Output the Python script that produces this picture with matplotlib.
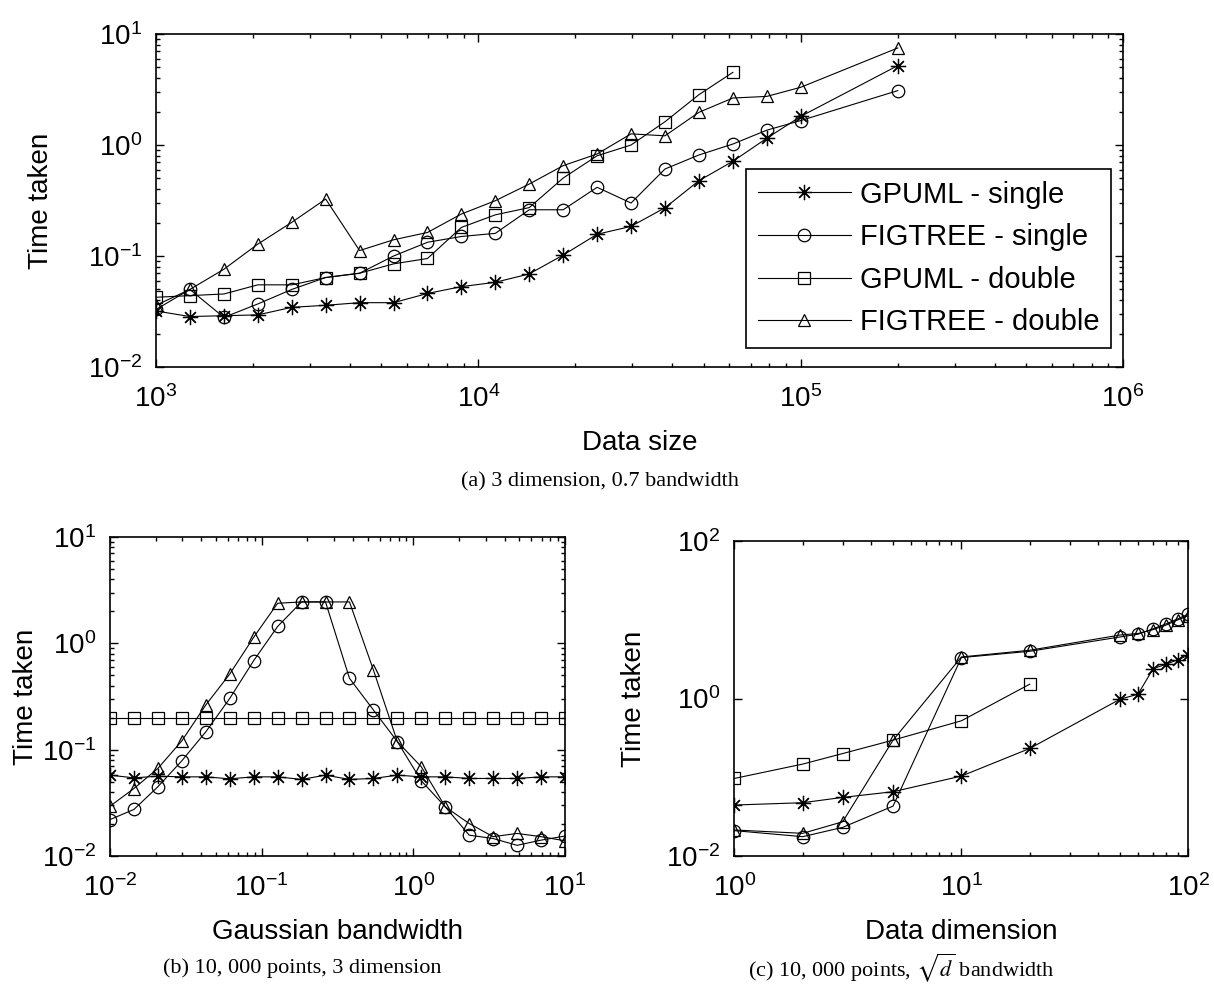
import matplotlib
matplotlib.use('Agg')
import matplotlib.pyplot as plt
from matplotlib.ticker import NullLocator

plt.rcParams['font.family'] = ['Liberation Sans', 'DejaVu Sans']

# (a) time vs data size, 3 dimension, 0.7 bandwidth
size_x = [1000, 1274, 1624, 2069, 2637, 3360, 4281, 5456, 6952, 8859, 11288,
          14384, 18330, 23357, 29764, 37927, 48329, 61585, 78476, 100000, 200000]
gpuml_single_a = [0.032, 0.0285, 0.029, 0.0295, 0.0345, 0.036, 0.038, 0.038, 0.046, 0.053, 0.058,
                  0.069, 0.102, 0.157, 0.185, 0.272, 0.477, 0.713, 1.15, 1.81, 5.19]
figtree_single_a = [0.033, 0.050, 0.028, 0.037, 0.050, 0.064, 0.070, 0.100, 0.133, 0.150, 0.160,
                    0.261, 0.261, 0.416, 0.300, 0.608, 0.813, 1.02, 1.36, 1.66, 3.09]
gpuml_double_a = [0.0425, 0.044, 0.0455, 0.055, 0.055, 0.064, 0.070, 0.085, 0.095, 0.181,
                  0.235, 0.273, 0.504, 0.80, 1.0, 1.62, 2.84, 4.51]
figtree_double_a = [0.036, 0.050, 0.076, 0.128, 0.201, 0.326, 0.112, 0.140, 0.163, 0.239, 0.315,
                    0.445, 0.652, 0.83, 1.26, 1.21, 1.97, 2.65, 2.74, 3.31, 7.48]

# (b) time vs Gaussian bandwidth, 10,000 points, 3 dimension
bw = [0.01, 0.01438, 0.02069, 0.02976, 0.04281, 0.06158, 0.08859, 0.1274, 0.1833, 0.2637,
      0.3793, 0.5456, 0.7848, 1.129, 1.624, 2.336, 3.360, 4.833, 6.952, 10.0]
gpuml_single_b = [0.0576, 0.0543, 0.0563, 0.0555, 0.0555, 0.0532, 0.0555, 0.0555, 0.0525, 0.0576,
                  0.0525, 0.0536, 0.0576, 0.0555, 0.0555, 0.0536, 0.0536, 0.0536, 0.0555, 0.0555]
figtree_single_b = [0.022, 0.0274, 0.0448, 0.0786, 0.147, 0.303, 0.687, 1.44, 2.45, 2.45,
                    0.469, 0.236, 0.119, 0.051, 0.029, 0.0157, 0.0146, 0.0126, 0.0141, 0.0154]
gpuml_double_b = [0.2, 0.2, 0.2, 0.2, 0.2, 0.2, 0.2, 0.2, 0.2, 0.2,
                  0.2, 0.2, 0.2, 0.2, 0.2, 0.2, 0.2, 0.2, 0.2, 0.2]
figtree_double_b = [0.0294, 0.0431, 0.0666, 0.121, 0.263, 0.514, 1.14, 2.38, 2.45, 2.45,
                    2.45, 0.561, 0.119, 0.069, 0.029, 0.0202, 0.0152, 0.0163, 0.0152, 0.0139]

# (c) time vs data dimension, 10,000 points, sqrt(d) bandwidth
dim = [1, 2, 3, 5, 10, 20, 50, 60, 70, 80, 90, 100]
gpuml_single_c = [0.0444, 0.0475, 0.0555, 0.0655, 0.1035, 0.232, 0.98, 1.135, 2.4, 2.73, 3.12, 3.55]
figtree_single_c = [0.021, 0.0176, 0.0231, 0.043, 3.31, 3.98, 6.05, 6.55, 7.7, 8.9, 10.3, 11.8]
gpuml_double_c = [0.0966, 0.147, 0.2, 0.296, 0.521, 1.52]
figtree_double_c = [0.0214, 0.0194, 0.0272, 0.296, 3.37, 4.1, 6.4, 6.7, 7.5, 8.6, 10.0, 11.3]

labels = ['GPUML - single', 'FIGTREE - single', 'GPUML - double', 'FIGTREE - double']
markers = [(8, 2, 0), 'o', 's', '^']
sizes = [11, 9, 9, 8]


def draw(ax, xs, ys):
    for x, y, m, s, lab in zip(xs, ys, markers, sizes, labels):
        ax.plot(x, y, color='k', lw=0.8, marker=m, ms=s, mfc='none', mec='k', mew=0.9, label=lab)


def style(ax):
    ax.set_xscale('log')
    ax.set_yscale('log')
    ax.tick_params(which='both', direction='in', top=True, right=True, width=1)
    ax.tick_params(which='major', length=6, labelsize=20)
    ax.tick_params(axis='x', which='major', pad=13)
    ax.tick_params(axis='y', which='major', pad=10)
    ax.tick_params(which='minor', length=3)
    for sp in ax.spines.values():
        sp.set_linewidth(1.2)


fig = plt.figure(figsize=(12.14, 9.88), dpi=100)

ax1 = fig.add_axes([0.1285, 0.6285, 0.7966, 0.3371])
style(ax1)
draw(ax1, [size_x, size_x, size_x[:len(gpuml_double_a)], size_x],
     [gpuml_single_a, figtree_single_a, gpuml_double_a, figtree_double_a])
ax1.set_xlim(1e3, 1e6)
ax1.set_ylim(1e-2, 1e1)
ax1.set_xlabel('Data size', fontsize=20, labelpad=12)
ax1.set_ylabel('Time taken', fontsize=20, labelpad=24)
leg = ax1.legend(loc='lower right', bbox_to_anchor=(0.9876, 0.057), fontsize=21,
                 frameon=True, fancybox=False, edgecolor='k', framealpha=1,
                 handlelength=3.2, handletextpad=0.3, labelspacing=0.5, borderpad=0.4,
                 borderaxespad=0)
leg.get_frame().set_linewidth(1.2)

ax2 = fig.add_axes([0.0906, 0.1336, 0.3748, 0.3229])
style(ax2)
draw(ax2, [bw, bw, bw, bw], [gpuml_single_b, figtree_single_b, gpuml_double_b, figtree_double_b])
ax2.set_xlim(1e-2, 1e1)
ax2.set_ylim(1e-2, 1e1)
ax2.set_xlabel('Gaussian bandwidth', fontsize=20, labelpad=12)
ax2.set_ylabel('Time taken', fontsize=20, labelpad=2)

ax3 = fig.add_axes([0.6049, 0.1336, 0.374, 0.3188])
style(ax3)
draw(ax3, [dim, dim, dim[:len(gpuml_double_c)], dim],
     [gpuml_single_c, figtree_single_c, gpuml_double_c, figtree_double_c])
ax3.set_xlim(1, 100)
ax3.set_ylim(1e-2, 1e2)
ax3.set_yticks([1e-2, 1e0, 1e2])
ax3.yaxis.set_minor_locator(NullLocator())
ax3.set_xlabel('Data dimension', fontsize=20, labelpad=12)
ax3.set_ylabel('Time taken', fontsize=20, labelpad=14)

cap = dict(ha='center', va='center', family='Liberation Serif', fontsize=16)
fig.text(600 / 1214, 1 - 482 / 988, '(a) 3 dimension, 0.7 bandwidth', **cap)
fig.text(302 / 1214, 1 - 968 / 988, '(b) 10, 000 points, 3 dimension', **cap)
fig.text(901 / 1214, 1 - 968 / 988, r'(c) 10, 000 points, $\sqrt{d}$ bandwidth',
         math_fontfamily='stix', **cap)

fig.savefig('out.png', dpi=100)
